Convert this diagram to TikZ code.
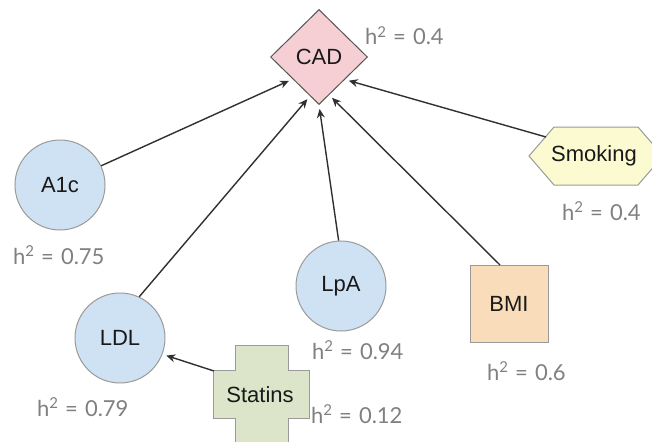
\documentclass[tikz,border=0pt]{standalone}
\usepackage{fontspec}
\setmainfont{Liberation Sans}
\newfontfamily\labelfont{Lato}
\usetikzlibrary{shapes.geometric,arrows.meta}

\definecolor{cadfill}{HTML}{F5CFD3}
\definecolor{bluefill}{HTML}{CFE2F3}
\definecolor{smokefill}{HTML}{FBFAD0}
\definecolor{bmifill}{HTML}{F9DDBB}
\definecolor{statfill}{HTML}{DCE4C9}
\definecolor{edgegray}{HTML}{9A9A9A}
\definecolor{darkedge}{HTML}{555555}
\definecolor{arrowgray}{HTML}{303030}
\definecolor{labelgray}{HTML}{808080}

% heritability text: h, raised 2, equals sign, value
\newcommand{\herittext}[1]{h\raisebox{0.36em}{\fontsize{15}{15}\selectfont 2}\hspace{0.32em}=\hspace{0.32em}#1}

\tikzset{
  nodetext/.style={font=\fontsize{22}{26}\selectfont, text=black!90},
  factor/.style={circle, draw=edgegray, line width=1pt, fill=bluefill,
                 minimum size=90pt, inner sep=0pt, nodetext},
  outcome/.style={diamond, draw=darkedge, line width=1pt, fill=cadfill,
                  minimum width=97pt, minimum height=95pt, inner sep=0pt, nodetext},
  boxed/.style={rectangle, draw=edgegray, line width=1pt, fill=bmifill,
                minimum width=78pt, minimum height=77pt, inner sep=0pt, nodetext},
  shapeline/.style={draw=edgegray, line width=1pt},
  herit/.style={anchor=base west, inner sep=0pt, text=labelgray,
                font=\labelfont\fontsize{22}{26}\selectfont},
  link/.style={draw=arrowgray, line width=1.4pt,
               -{Stealth[length=9pt,width=8pt]}, shorten >=4pt}
}

\begin{document}
\begin{tikzpicture}[x=1pt,y=-1pt]
  \useasboundingbox (0,0) rectangle (652,441);

  % outcome
  \node[outcome] (cad) at (319,57) {CAD};

  % risk factors
  \node[factor] (a1c) at (60,185) {A1c};
  \node[factor] (ldl) at (120,338) {LDL};
  \node[factor] (lpa) at (341,286) {LpA};
  \node[boxed] (bmi) at (509,304) {BMI};

  % smoking: elongated hexagon
  \path[shapeline, fill=smokefill]
    (529,156) -- (554,127) -- (638,127) -- (663,156) -- (638,185) -- (554,185) -- cycle;
  \node[nodetext, inner sep=0pt] (smoking) at (594,156) {Smoking};
  \coordinate (smk) at (546,137);

  % statins: plus-shaped box
  \path[shapeline, fill=statfill]
    (235,345) -- (288,345) -- (288,370) -- (309,370) -- (309,418) -- (288,418)
    -- (288,443) -- (235,443) -- (235,418) -- (213,418) -- (213,370) -- (235,370) -- cycle;
  \node[nodetext, inner sep=0pt] (statins) at (260,395) {Statins};
  \coordinate (stc) at (214,371);

  % heritability labels
  \node[herit] (hcad) at (365,45) {\herittext{0.4}};
  \node[herit] (hsmk) at (562,220) {\herittext{0.4}};
  \node[herit] (ha1c) at (13,264) {\herittext{0.75}};
  \node[herit] (hldl) at (37,416) {\herittext{0.79}};
  \node[herit] (hlpa) at (312,359) {\herittext{0.94}};
  \node[herit] (hbmi) at (487,380) {\herittext{0.6}};
  \node[herit] (hsta) at (311,423) {\herittext{0.12}};

  % causal arrows
  \draw[link] (a1c.25)  -- (cad.-140);
  \draw[link] (ldl.65)  -- (cad.-103);
  \draw[link] (lpa.93)  -- (cad.-90);
  \draw[link] (bmi.103) -- (cad.-75);
  \draw[link] (smk)     -- (cad.-41);
  \draw[link] (stc)     -- (ldl.-21);
\end{tikzpicture}
\end{document}
